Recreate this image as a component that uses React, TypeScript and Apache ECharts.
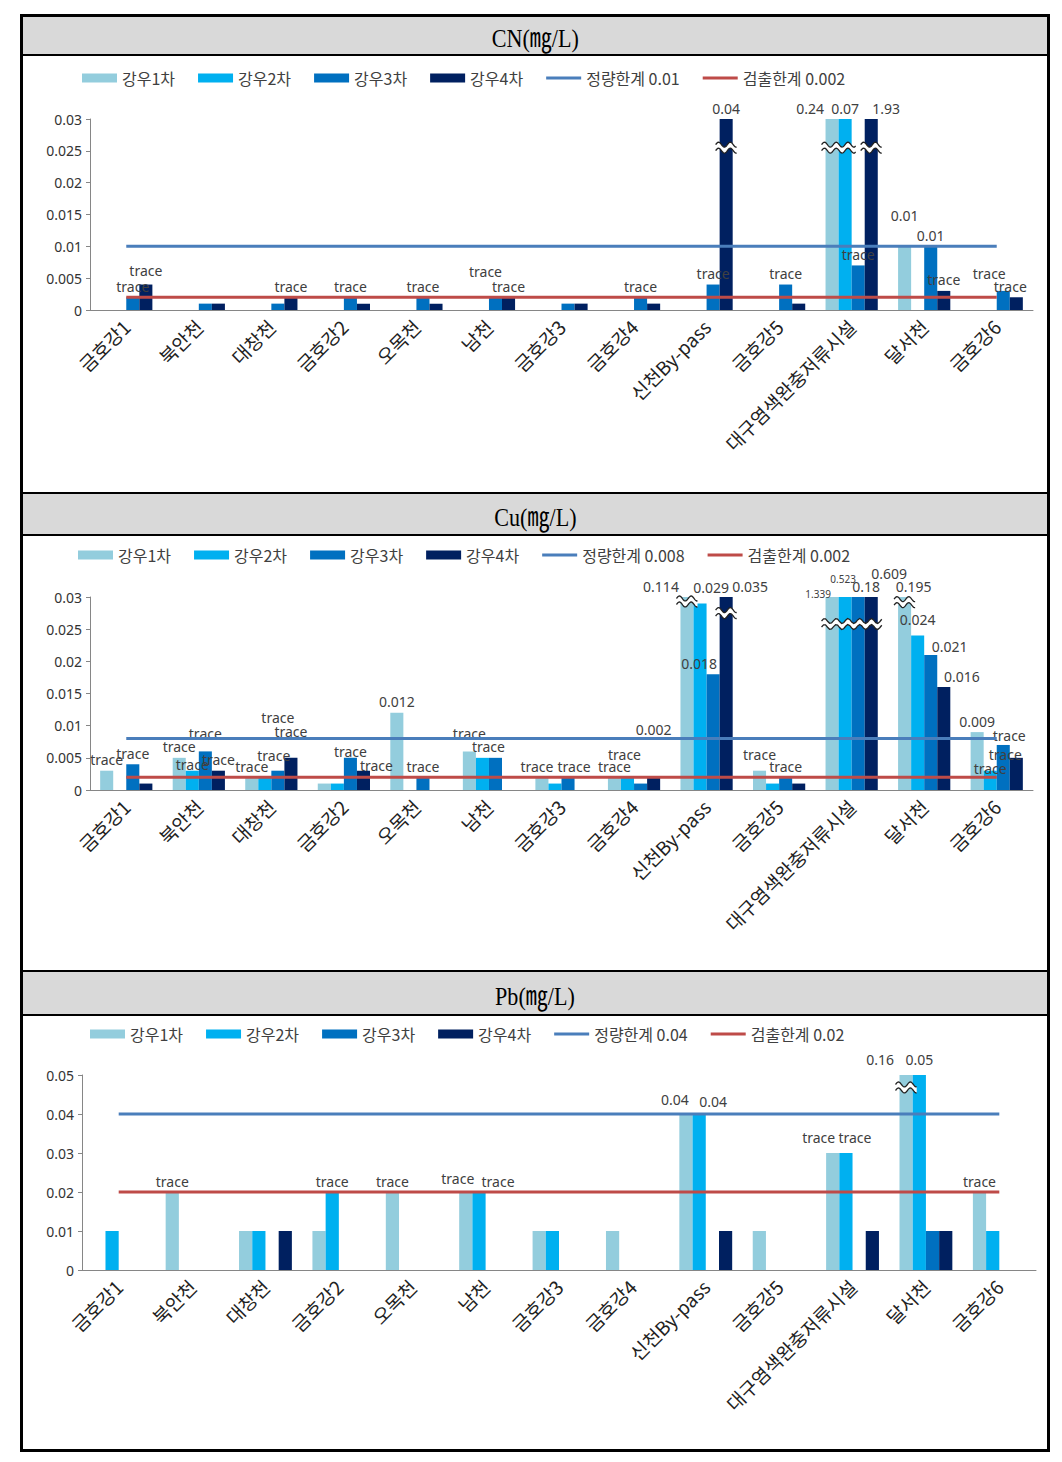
import React, { useEffect, useRef } from "react";
import * as echarts from "echarts";

// ---------- shared data ----------
const categories = ["금호강1", "북안천", "대창천", "금호강2", "오목천", "남천", "금호강3", "금호강4", "신천By-pass", "금호강5", "대구염색완충저류시설", "달서천", "금호강6"];
const rainNames = ["강우1차", "강우2차", "강우3차", "강우4차"];
const rainColors = ["#93CDDD", "#00B0F0", "#0070C0", "#002060"];

// ---------- CN ----------
const cnRain1 = [0, 0, 0, 0, 0, 0, 0, 0, 0, 0, 0.24, 0.01, 0];
const cnRain2 = [0, 0, 0, 0, 0, 0, 0, 0, 0, 0, 0.07, 0, 0];
const cnRain3 = [0.002, 0.001, 0.001, 0.002, 0.002, 0.002, 0.001, 0.002, 0.004, 0.004, 0.007, 0.01, 0.003];
const cnRain4 = [0.004, 0.001, 0.002, 0.001, 0.001, 0.002, 0.001, 0.001, 0.04, 0.001, 1.93, 0.003, 0.002];
const cnLabel1 = ["", "", "", "", "", "", "", "", "", "", "0.24", "0.01", ""];
const cnLabel2 = ["", "", "", "", "", "", "", "", "", "", "0.07", "", ""];
const cnLabel3 = ["trace", "", "", "trace", "trace", "trace", "", "trace", "trace", "trace", "trace", "0.01", "trace"];
const cnLabel4 = ["trace", "", "trace", "", "", "trace", "", "", "0.04", "", "1.93", "trace", "trace"];
const cnLoq = 0.01;
const cnLod = 0.002;
const cnTicks = { min: 0, max: 0.03, interval: 0.005 };
// [category index, first rain, last rain, value where the break is drawn]
const cnBreaks = [
  [8, 3, 3, 0.0255],
  [10, 0, 1, 0.0255],
  [10, 3, 3, 0.0255],
];

// ---------- Cu ----------
const cuRain1 = [0.003, 0.005, 0.002, 0.001, 0.012, 0.006, 0.002, 0.002, 0.114, 0.003, 1.339, 0.195, 0.009];
const cuRain2 = [0, 0.003, 0.002, 0.001, 0, 0.005, 0.001, 0.002, 0.029, 0.001, 0.523, 0.024, 0.003];
const cuRain3 = [0.004, 0.006, 0.003, 0.005, 0.002, 0.005, 0.002, 0.001, 0.018, 0.002, 0.18, 0.021, 0.007];
const cuRain4 = [0.001, 0.003, 0.005, 0.003, 0, 0, 0, 0.002, 0.035, 0.001, 0.609, 0.016, 0.005];
const cuLabel1 = ["trace", "trace", "trace", "", "0.012", "trace", "trace", "trace", "0.114", "trace", "1.339", "0.195", "0.009"];
const cuLabel2 = ["", "trace", "trace", "", "", "trace", "", "trace", "0.029", "", "0.523", "0.024", "trace"];
const cuLabel3 = ["trace", "trace", "trace", "trace", "trace", "", "trace", "", "0.018", "trace", "0.18", "0.021", "trace"];
const cuLabel4 = ["", "trace", "trace", "trace", "", "", "", "0.002", "0.035", "", "0.609", "0.016", "trace"];
const cuLoq = 0.008;
const cuLod = 0.002;
const cuTicks = { min: 0, max: 0.03, interval: 0.005 };
const cuBreaks = [
  [8, 0, 0, 0.0293],
  [8, 3, 3, 0.0275],
  [10, 0, 3, 0.0258],
  [11, 0, 0, 0.0292],
];

// ---------- Pb ----------
const pbRain1 = [0, 0.02, 0.01, 0.01, 0.02, 0.02, 0.01, 0.01, 0.04, 0.01, 0.03, 0.16, 0.02];
const pbRain2 = [0.01, 0, 0.01, 0.02, 0, 0.02, 0.01, 0, 0.04, 0, 0.03, 0.05, 0.01];
const pbRain3 = [0, 0, 0, 0, 0, 0, 0, 0, 0, 0, 0, 0.01, 0];
const pbRain4 = [0, 0, 0.01, 0, 0, 0, 0, 0, 0.01, 0, 0.01, 0.01, 0];
const pbLabel1 = ["", "trace", "", "", "trace", "trace", "", "", "0.04", "", "trace", "0.16", "trace"];
const pbLabel2 = ["", "", "", "trace", "", "trace", "", "", "0.04", "", "trace", "0.05", ""];
const pbLabel3 = ["", "", "", "", "", "", "", "", "", "", "", "", ""];
const pbLabel4 = ["", "", "", "", "", "", "", "", "", "", "", "", ""];
const pbLoq = 0.04;
const pbLod = 0.02;
const pbTicks = { min: 0, max: 0.05, interval: 0.01 };
const pbBreaks = [[11, 0, 0, 0.0468]];

// ---------- label placement (style, not data) ----------
const cnOffsets: Record<string, number[]> = {
  "3-0": [0, -3], "2-5": [-10, -15], "0-10": [-22, 0], "3-10": [15, 0],
  "0-11": [0, -20], "2-12": [-14, -6], "3-12": [-6, 0],
};
const cuOffsets: Record<string, number[]> = {
  "1-1": [0, 5], "2-1": [0, -7], "1-2": [9, -11], "2-2": [0, -42], "3-2": [0, -15],
  "2-3": [0, 5], "3-3": [13, 6], "0-5": [0, -7], "1-5": [6, 0], "0-6": [-5, 0], "2-6": [6, 0],
  "1-7": [-3, -12], "3-7": [0, -37], "0-8": [-26, 0], "1-8": [11, -5], "2-8": [-14, 0], "3-8": [24, 0],
  "0-9": [0, -5], "0-10": [-14, 6], "1-10": [-2, -9], "2-10": [8, 0], "3-10": [18, -13],
  "0-11": [9, 0], "1-11": [0, -5], "2-11": [19, 3], "3-11": [18, 0],
  "1-12": [0, 9], "2-12": [6, 2], "3-12": [-11, 8],
};
const cuSmall: Record<string, number> = { "0-10": 10, "1-10": 10 };
const pbOffsets: Record<string, number[]> = {
  "0-5": [-8, -3], "1-5": [19, 0], "0-8": [-11, -4], "1-8": [14, -2],
  "0-10": [-14, -5], "1-10": [9, -5], "0-11": [-26, -5], "1-11": [0, -5],
};

const BAR_CAT_GAP = 0.28;
const BAR_FRAC = (1 - BAR_CAT_GAP) / 4;

const labelFont = "'Noto Sans', 'Liberation Sans', sans-serif";
const krFont = "'Noto Sans CJK KR', 'Noto Sans', sans-serif";
// thin line icon inside a 35x9 box (tiny corner points fix the bounding box)
const lineIcon = "path://M0,0L0.01,0L0.01,0.01Z M0,3L35,3L35,6L0,6Z M35,9L34.99,9L34.99,8.99Z";

function barSeries(values: number[][], labels: string[][], offsets: Record<string, number[]>, small: Record<string, number>, max: number) {
  return values.map((vals, s) => ({
    name: rainNames[s],
    type: "bar",
    barGap: "0%",
    barCategoryGap: BAR_CAT_GAP * 100 + "%",
    itemStyle: { color: rainColors[s] },
    z: 2,
    data: vals.map((v, i) => {
      const key = `${s}-${i}`;
      const txt = labels[s][i];
      return {
        value: Math.min(v, max),
        label: txt
          ? {
              show: true,
              position: "top",
              distance: 4,
              formatter: txt,
              offset: offsets[key] || [0, 0],
              fontSize: small[key] || 14,
              fontFamily: labelFont,
              color: "#404040",
            }
          : { show: false },
      };
    }),
  }));
}

function limitLine(name: string, value: number, color: string) {
  return {
    name,
    type: "line",
    symbol: "none",
    z: 3,
    lineStyle: { color, width: 3 },
    itemStyle: { color },
    data: categories.map(() => value),
  };
}

function breakSeries(breaks: number[][]) {
  return {
    type: "custom",
    silent: true,
    z: 6,
    data: breaks,
    encode: { x: 0, y: 3 },
    renderItem: (params: any, api: any) => {
      const cat = api.value(0);
      const s0 = api.value(1);
      const s1 = api.value(2);
      const pt = api.coord([cat, api.value(3)]);
      const catW = api.size([1, 0])[0];
      const barW = catW * BAR_FRAC;
      const xa = pt[0] + (s0 - 2) * barW - 4;
      const xb = pt[0] + (s1 - 1) * barW + 4;
      const y = pt[1];
      const top: number[][] = [];
      const bot: number[][] = [];
      const n = 30;
      const period = Math.max(barW * 0.9, 11);
      for (let k = 0; k <= n; k++) {
        const x = xa + ((xb - xa) * k) / n;
        const dy = -2.5 * Math.sin(((x - xa) / period) * 2 * Math.PI);
        top.push([x, y - 3 + dy]);
        bot.push([x, y + 3 + dy]);
      }
      return {
        type: "group",
        children: [
          { type: "polygon", shape: { points: top.concat(bot.slice().reverse()) }, style: { fill: "#fff" } },
          { type: "polyline", shape: { points: top }, style: { stroke: "#222", lineWidth: 1.3, fill: null } },
          { type: "polyline", shape: { points: bot }, style: { stroke: "#222", lineWidth: 1.3, fill: null } },
        ],
      };
    },
  };
}

function buildOption(cfg: any) {
  const loqName = `정량한계 ${cfg.loq}`;
  const lodName = `검출한계 ${cfg.lod}`;
  return {
    animation: false,
    legend: {
      left: cfg.legendLeft,
      top: cfg.legendTop,
      itemWidth: 35,
      itemHeight: 9,
      itemGap: 23,
      textStyle: { fontSize: 16, color: "#404040", fontFamily: krFont },
      data: [
        { name: rainNames[0], icon: "rect" },
        { name: rainNames[1], icon: "rect" },
        { name: rainNames[2], icon: "rect" },
        { name: rainNames[3], icon: "rect" },
        { name: loqName, icon: lineIcon, itemStyle: { color: "#4A7EBB", borderWidth: 0 } },
        { name: lodName, icon: lineIcon, itemStyle: { color: "#BE4B48", borderWidth: 0 } },
      ],
    },
    grid: cfg.grid,
    xAxis: {
      type: "category",
      data: categories,
      axisLine: { lineStyle: { color: "#868686", width: 1 } },
      axisTick: { show: false },
      axisLabel: {
        interval: 0,
        rotate: 45,
        margin: 13,
        fontSize: 19,
        color: "#222",
        fontFamily: krFont,
      },
    },
    yAxis: {
      type: "value",
      min: cfg.ticks.min,
      max: cfg.ticks.max,
      interval: cfg.ticks.interval,
      splitLine: { show: false },
      axisLine: { show: true, lineStyle: { color: "#868686" } },
      axisTick: { show: true, length: 4, lineStyle: { color: "#868686" } },
      axisLabel: { fontSize: 14, color: "#333", fontFamily: labelFont, margin: 8 },
    },
    series: [
      ...barSeries(cfg.values, cfg.labels, cfg.offsets, cfg.small || {}, cfg.ticks.max),
      limitLine(loqName, cfg.loq, "#4A7EBB"),
      limitLine(lodName, cfg.lod, "#BE4B48"),
      breakSeries(cfg.breaks),
    ],
  };
}

const panels = [
  {
    title: "CN(㎎/L)",
    headerH: 37,
    chartH: 436,
    values: [cnRain1, cnRain2, cnRain3, cnRain4],
    labels: [cnLabel1, cnLabel2, cnLabel3, cnLabel4],
    offsets: cnOffsets,
    loq: cnLoq,
    lod: cnLod,
    ticks: cnTicks,
    breaks: cnBreaks,
    legendLeft: 54,
    legendTop: 9,
    grid: { left: 67, right: 14, top: 63, bottom: 182 },
  },
  {
    title: "Cu(㎎/L)",
    headerH: 40,
    chartH: 434,
    values: [cuRain1, cuRain2, cuRain3, cuRain4],
    labels: [cuLabel1, cuLabel2, cuLabel3, cuLabel4],
    offsets: cuOffsets,
    small: cuSmall,
    loq: cuLoq,
    lod: cuLod,
    ticks: cuTicks,
    breaks: cuBreaks,
    legendLeft: 50,
    legendTop: 6,
    grid: { left: 67, right: 14, top: 61, bottom: 180 },
  },
  {
    title: "Pb(㎎/L)",
    headerH: 42,
    chartH: 433,
    values: [pbRain1, pbRain2, pbRain3, pbRain4],
    labels: [pbLabel1, pbLabel2, pbLabel3, pbLabel4],
    offsets: pbOffsets,
    loq: pbLoq,
    lod: pbLod,
    ticks: pbTicks,
    breaks: pbBreaks,
    legendLeft: 62,
    legendTop: 5,
    grid: { left: 59, right: 11, top: 59, bottom: 179 },
  },
];

function Chart({ cfg }: { cfg: any }) {
  const ref = useRef<HTMLDivElement>(null);
  useEffect(() => {
    const chart = echarts.init(ref.current as HTMLDivElement, null, { renderer: "svg" });
    chart.setOption(buildOption(cfg));
    return () => chart.dispose();
  }, [cfg]);
  return <div ref={ref} style={{ width: 1024, height: cfg.chartH }} />;
}

export default function App() {
  return (
    <div
      style={{
        position: "absolute",
        left: 20,
        top: 14,
        width: 1030,
        height: 1438,
        border: "3px solid #000",
        boxSizing: "border-box",
        background: "#fff",
      }}
    >
      {panels.map((p, idx) => (
        <div key={idx}>
          <div
            style={{
              height: p.headerH,
              background: "#D9D9D9",
              borderTop: idx > 0 ? "2px solid #000" : "none",
              borderBottom: "2px solid #000",
              display: "flex",
              alignItems: "center",
              justifyContent: "center",
              fontFamily: "'Liberation Serif', 'Noto Sans CJK KR', serif",
              fontSize: 26,
              color: "#000",
            }}
          >
            <span style={{ display: "inline-block", transform: "scaleX(0.85)" }}>{p.title}</span>
          </div>
          <Chart cfg={p} />
        </div>
      ))}
    </div>
  );
}
